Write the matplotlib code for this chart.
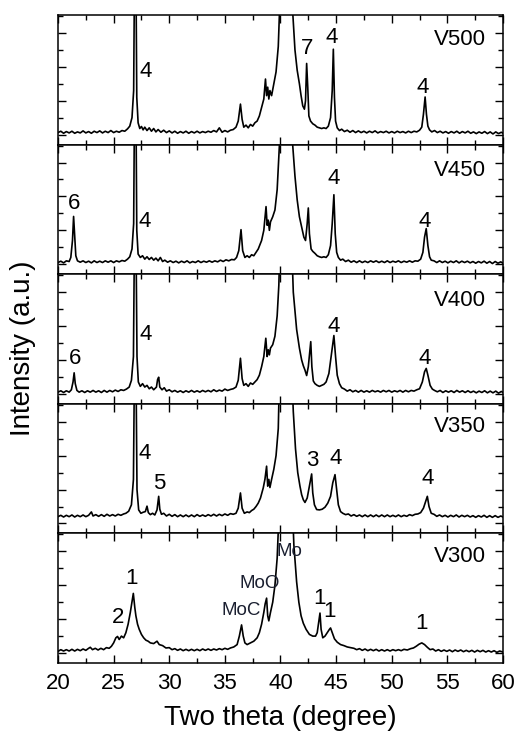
import matplotlib
matplotlib.use("Agg")
import matplotlib.pyplot as plt
from matplotlib.ticker import MultipleLocator, NullFormatter

plt.rcParams['font.family'] = ['Liberation Sans', 'DejaVu Sans']

# XRD patterns: (two theta, intensity in panel units)
v500 = [(20.0, .06), (20.25, .1), (20.5, .04), (20.75, .09), (21.0, .05), (21.25, .1), (21.5, .04), (21.75, .08),
        (22.0, .05), (22.25, .11), (22.5, .05), (22.75, .09), (23.0, .04), (23.25, .1), (23.5, .06), (23.75, .11),
        (24.0, .05), (24.25, .1), (24.5, .06), (24.75, .12), (25.0, .06), (25.25, .1), (25.5, .07), (25.75, .12),
        (26.0, .1), (26.25, .17), (26.45, .25), (26.65, .5), (26.8, 1.3), (26.88, 5), (27.0, 5), (27.08, 1.1),
        (27.2, .35), (27.35, .18), (27.5, .24), (27.65, .14), (27.8, .22), (28.0, .12), (28.2, .2), (28.4, .1),
        (28.6, .18), (28.8, .08), (29.0, .15), (29.25, .07), (29.5, .13), (29.75, .06), (30.0, .11), (30.25, .05),
        (30.5, .1), (30.75, .04), (31.0, .09), (31.25, .05), (31.5, .1), (31.75, .04), (32.0, .09), (32.25, .05),
        (32.5, .1), (32.75, .05), (33.0, .09), (33.25, .06), (33.5, .1), (33.75, .07), (34.0, .12), (34.25, .08),
        (34.5, .2), (34.75, .07), (35.0, .12), (35.25, .08), (35.5, .13), (35.75, .15), (36.0, .22), (36.2, .4),
        (36.4, .9), (36.55, .45), (36.7, .22), (36.9, .28), (37.1, .2), (37.3, .3), (37.5, .25), (37.7, .35),
        (37.9, .4), (38.1, .55), (38.3, .8), (38.5, 1.05), (38.65, 1.64), (38.75, 1.15), (38.85, 1.4), (38.95, 1.05),
        (39.05, 1.3), (39.2, 1.15), (39.4, 1.5), (39.6, 1.85), (39.8, 2.6), (39.95, 4.0), (40.1, 5), (40.9, 5),
        (41.1, 3.6), (41.3, 2.5), (41.5, 1.9), (41.7, 1.5), (41.85, 1.15), (42.0, .85), (42.15, .75), (42.25, 1.0),
        (42.35, 2.1), (42.45, 1.4), (42.55, .55), (42.7, .4), (42.9, .32), (43.1, .28), (43.3, .22), (43.5, .2),
        (43.7, .18), (43.9, .2), (44.1, .18), (44.3, .25), (44.5, .5), (44.65, 1.3), (44.75, 2.52), (44.85, 1.1),
        (44.95, .4), (45.1, .2), (45.3, .12), (45.5, .16), (45.75, .09), (46.0, .13), (46.25, .07), (46.5, .12),
        (46.75, .06), (47.0, .11), (47.25, .06), (47.5, .1), (47.75, .05), (48.0, .1), (48.25, .06), (48.5, .11),
        (48.75, .05), (49.0, .09), (49.25, .06), (49.5, .1), (49.75, .05), (50.0, .09), (50.25, .05), (50.5, .1),
        (50.75, .06), (51.0, .09), (51.25, .05), (51.5, .1), (51.75, .06), (52.0, .1), (52.25, .08), (52.5, .13),
        (52.7, .22), (52.85, .6), (53.0, 1.11), (53.12, .6), (53.25, .25), (53.4, .14), (53.6, .08), (53.85, .12),
        (54.1, .06), (54.35, .1), (54.6, .05), (54.85, .09), (55.1, .04), (55.35, .09), (55.6, .05), (55.85, .1),
        (56.1, .04), (56.35, .09), (56.6, .05), (56.85, .1), (57.1, .04), (57.35, .08), (57.6, .03), (57.85, .08),
        (58.1, .04), (58.35, .09), (58.6, .03), (58.85, .08), (59.1, .02), (59.35, .08), (59.6, .03), (59.85, .07),
        (60.0, .04)]

v450 = [(20.0, .05), (20.25, .09), (20.5, .04), (20.75, .1), (21.0, .08), (21.15, .2), (21.3, .7), (21.4, 1.41),
        (21.5, .8), (21.6, .25), (21.75, .1), (22.0, .06), (22.25, .1), (22.5, .05), (22.75, .09), (23.0, .04),
        (23.25, .1), (23.5, .05), (23.75, .09), (24.0, .05), (24.25, .1), (24.5, .06), (24.75, .1), (25.0, .05),
        (25.25, .1), (25.5, .07), (25.75, .11), (26.0, .09), (26.25, .15), (26.45, .22), (26.65, .45), (26.8, 1.2),
        (26.88, 5), (27.0, 5), (27.08, 1.0), (27.2, .3), (27.4, .2), (27.6, .25), (27.8, .15), (28.0, .22),
        (28.2, .14), (28.4, .2), (28.6, .12), (28.8, .18), (29.0, .1), (29.2, .2), (29.4, .08), (29.6, .12),
        (29.85, .06), (30.1, .1), (30.35, .05), (30.6, .09), (30.85, .04), (31.1, .09), (31.35, .05), (31.6, .1),
        (31.85, .04), (32.1, .08), (32.35, .05), (32.6, .1), (32.85, .05), (33.1, .09), (33.35, .06), (33.6, .1),
        (33.85, .06), (34.1, .1), (34.35, .07), (34.6, .12), (34.85, .08), (35.1, .13), (35.35, .1), (35.6, .14),
        (35.85, .13), (36.05, .2), (36.25, .4), (36.45, 1.02), (36.6, .4), (36.8, .2), (37.0, .25), (37.2, .2),
        (37.4, .28), (37.6, .25), (37.8, .35), (38.0, .45), (38.3, .7), (38.5, 1.0), (38.7, 1.7), (38.8, 1.15),
        (38.9, 1.3), (39.0, 1.0), (39.1, 1.25), (39.3, 1.4), (39.5, 1.6), (39.7, 2.2), (39.9, 3.5), (40.0, 5),
        (40.95, 5), (41.1, 3.5), (41.3, 2.6), (41.5, 1.9), (41.7, 1.4), (41.9, 1.1), (42.1, .8), (42.25, .7),
        (42.4, 1.2), (42.5, 1.66), (42.6, .9), (42.75, .45), (42.9, .38), (43.1, .32), (43.3, .25), (43.5, .22),
        (43.7, .2), (43.9, .22), (44.1, .2), (44.3, .28), (44.5, .55), (44.65, 1.2), (44.8, 2.05), (44.92, .9),
        (45.05, .35), (45.2, .2), (45.4, .12), (45.6, .15), (45.85, .08), (46.1, .12), (46.35, .06), (46.6, .1),
        (46.85, .05), (47.1, .1), (47.35, .05), (47.6, .09), (47.85, .05), (48.1, .1), (48.35, .06), (48.6, .1),
        (48.85, .05), (49.1, .09), (49.35, .05), (49.6, .1), (49.85, .05), (50.1, .09), (50.35, .06), (50.6, .1),
        (50.85, .05), (51.1, .09), (51.35, .06), (51.6, .1), (51.85, .06), (52.1, .1), (52.35, .09), (52.6, .15),
        (52.8, .35), (52.95, .8), (53.1, 1.05), (53.25, .55), (53.4, .22), (53.55, .12), (53.8, .1), (54.05, .05),
        (54.3, .1), (54.55, .05), (54.8, .09), (55.05, .04), (55.3, .09), (55.55, .05), (55.8, .1), (56.05, .04),
        (56.3, .09), (56.55, .05), (56.8, .09), (57.05, .04), (57.3, .08), (57.55, .03), (57.8, .08), (58.05, .04),
        (58.3, .09), (58.55, .03), (58.8, .08), (59.05, .02), (59.3, .08), (59.55, .03), (59.8, .07), (60.0, .03)]

v400 = [(20.0, .05), (20.25, .09), (20.5, .04), (20.75, .09), (21.0, .05), (21.2, .12), (21.35, .35), (21.45, .62),
        (21.55, .3), (21.7, .1), (21.9, .05), (22.15, .09), (22.4, .04), (22.65, .09), (22.9, .05), (23.15, .1),
        (23.4, .05), (23.65, .09), (23.9, .04), (24.15, .1), (24.4, .05), (24.65, .1), (24.9, .06), (25.15, .11),
        (25.4, .07), (25.65, .12), (25.9, .1), (26.15, .14), (26.4, .2), (26.6, .4), (26.78, 1.1), (26.88, 5),
        (27.0, 5), (27.1, 1.1), (27.22, .35), (27.4, .22), (27.6, .3), (27.8, .2), (28.0, .25), (28.2, .15),
        (28.4, .2), (28.6, .12), (28.85, .2), (28.95, .42), (29.05, .49), (29.15, .2), (29.35, .12), (29.55, .18),
        (29.75, .08), (30.0, .12), (30.25, .06), (30.5, .1), (30.75, .05), (31.0, .09), (31.25, .04), (31.5, .09),
        (31.75, .05), (32.0, .1), (32.25, .05), (32.5, .09), (32.75, .05), (33.0, .1), (33.25, .06), (33.5, .1),
        (33.75, .06), (34.0, .12), (34.25, .07), (34.5, .11), (34.75, .08), (35.0, .14), (35.25, .1), (35.5, .13),
        (35.75, .15), (36.0, .2), (36.2, .4), (36.4, 1.05), (36.55, .45), (36.7, .25), (36.9, .3), (37.1, .22),
        (37.3, .32), (37.5, .28), (37.7, .35), (37.9, .42), (38.1, .55), (38.3, .8), (38.5, 1.1), (38.68, 1.64),
        (38.8, 1.1), (38.9, 1.3), (39.0, 1.15), (39.1, 1.35), (39.3, 1.45), (39.5, 1.7), (39.7, 2.3), (39.85, 3.2),
        (40.0, 5), (40.95, 5), (41.15, 3.0), (41.45, 1.9), (41.7, 1.35), (41.9, 1.0), (42.05, .83), (42.2, .7),
        (42.35, .54), (42.5, .8), (42.65, 1.3), (42.72, 1.54), (42.82, .8), (42.95, .38), (43.1, .3), (43.3, .25),
        (43.5, .22), (43.7, .25), (43.9, .28), (44.1, .35), (44.35, .6), (44.55, 1.1), (44.8, 1.72), (44.95, 1.1),
        (45.1, .55), (45.3, .3), (45.5, .18), (45.75, .14), (46.0, .08), (46.25, .12), (46.5, .06), (46.75, .1),
        (47.0, .05), (47.25, .1), (47.5, .05), (47.75, .09), (48.0, .05), (48.25, .1), (48.5, .06), (48.75, .09),
        (49.0, .05), (49.25, .1), (49.5, .06), (49.75, .1), (50.0, .05), (50.25, .09), (50.5, .06), (50.75, .1),
        (51.0, .05), (51.25, .1), (51.5, .06), (51.75, .1), (52.0, .08), (52.25, .12), (52.5, .15), (52.75, .35),
        (52.95, .65), (53.1, .75), (53.25, .55), (53.45, .25), (53.65, .14), (53.85, .1), (54.1, .06), (54.35, .1),
        (54.6, .04), (54.85, .09), (55.1, .05), (55.35, .09), (55.6, .04), (55.85, .1), (56.1, .05), (56.35, .09),
        (56.6, .04), (56.85, .09), (57.1, .04), (57.35, .08), (57.6, .03), (57.85, .08), (58.1, .04), (58.35, .09),
        (58.6, .03), (58.85, .08), (59.1, .03), (59.35, .08), (59.6, .02), (59.85, .07), (60.0, .04)]

v350 = [(20.0, .2), (20.25, .24), (20.5, .19), (20.75, .24), (21.0, .2), (21.25, .25), (21.5, .19), (21.75, .24),
        (22.0, .2), (22.25, .25), (22.5, .2), (22.75, .24), (22.9, .3), (23.0, .34), (23.15, .22), (23.4, .26),
        (23.65, .21), (23.9, .26), (24.15, .21), (24.4, .27), (24.65, .22), (24.9, .26), (25.15, .22), (25.4, .27),
        (25.65, .24), (25.9, .28), (26.1, .3), (26.35, .36), (26.6, .55), (26.78, 1.3), (26.88, 5), (27.0, 5),
        (27.1, 1.0), (27.25, .4), (27.45, .3), (27.65, .33), (27.85, .35), (28.0, .51), (28.12, .32), (28.3, .26),
        (28.5, .3), (28.7, .25), (28.9, .4), (29.05, .8), (29.15, .42), (29.3, .27), (29.5, .3), (29.75, .22),
        (30.0, .27), (30.25, .21), (30.5, .26), (30.75, .2), (31.0, .25), (31.25, .2), (31.5, .25), (31.75, .2),
        (32.0, .25), (32.25, .2), (32.5, .26), (32.75, .21), (33.0, .25), (33.25, .21), (33.5, .26), (33.75, .22),
        (34.0, .27), (34.25, .22), (34.5, .27), (34.75, .23), (35.0, .28), (35.25, .24), (35.5, .29), (35.75, .27),
        (36.0, .3), (36.2, .45), (36.4, .9), (36.55, .45), (36.75, .3), (37.0, .34), (37.2, .32), (37.4, .38),
        (37.6, .42), (37.8, .5), (38.0, .6), (38.2, .75), (38.45, 1.05), (38.6, 1.3), (38.75, 1.69), (38.85, 1.1),
        (38.95, 1.3), (39.05, 1.06), (39.2, 1.3), (39.4, 1.6), (39.6, 2.0), (39.8, 2.8), (39.95, 5), (40.95, 5),
        (41.15, 3.3), (41.35, 2.2), (41.55, 1.5), (41.75, 1.1), (41.9, .85), (42.05, .7), (42.2, .62), (42.4, .75),
        (42.6, 1.1), (42.8, 1.46), (42.9, .9), (43.05, .55), (43.25, .41), (43.5, .4), (43.75, .42), (44.0, .48),
        (44.25, .6), (44.5, .8), (44.7, 1.2), (44.9, 1.44), (45.05, 1.0), (45.2, .55), (45.4, .35), (45.6, .3),
        (45.85, .26), (46.1, .28), (46.35, .22), (46.6, .26), (46.85, .21), (47.1, .25), (47.35, .2), (47.6, .25),
        (47.85, .2), (48.1, .25), (48.35, .2), (48.6, .25), (48.85, .2), (49.1, .25), (49.35, .2), (49.6, .25),
        (49.85, .2), (50.1, .24), (50.35, .2), (50.6, .25), (50.85, .2), (51.1, .24), (51.35, .21), (51.6, .26),
        (51.85, .23), (52.1, .27), (52.35, .28), (52.6, .32), (52.85, .45), (53.05, .65), (53.2, .8), (53.35, .5),
        (53.55, .3), (53.8, .27), (54.05, .21), (54.3, .25), (54.55, .2), (54.8, .24), (55.05, .19), (55.3, .24),
        (55.55, .2), (55.8, .25), (56.05, .19), (56.3, .24), (56.55, .2), (56.8, .24), (57.05, .19), (57.3, .23),
        (57.55, .18), (57.8, .23), (58.05, .19), (58.3, .24), (58.55, .18), (58.8, .23), (59.05, .18), (59.3, .23),
        (59.55, .18), (59.8, .22), (60.0, .19)]

v300 = [(20.0, .05), (20.25, .1), (20.5, .06), (20.75, .1), (21.0, .06), (21.25, .11), (21.5, .06), (21.75, .11),
        (22.0, .07), (22.25, .12), (22.5, .08), (22.75, .14), (22.9, .17), (23.1, .1), (23.35, .14), (23.6, .09),
        (23.85, .14), (24.1, .1), (24.35, .16), (24.6, .14), (24.8, .2), (25.0, .3), (25.2, .45), (25.35, .49),
        (25.5, .4), (25.7, .5), (25.9, .45), (26.1, .6), (26.3, .85), (26.5, 1.2), (26.65, 1.5), (26.77, 1.76),
        (26.9, 1.35), (27.0, 1.1), (27.15, .85), (27.3, .7), (27.5, .55), (27.7, .45), (27.9, .38), (28.1, .35),
        (28.3, .3), (28.6, .28), (28.9, .35), (29.1, .25), (29.4, .22), (29.7, .15), (30.0, .16), (30.25, .1),
        (30.5, .13), (30.75, .08), (31.0, .12), (31.25, .07), (31.5, .11), (31.75, .07), (32.0, .11), (32.25, .07),
        (32.5, .11), (32.75, .07), (33.0, .12), (33.25, .08), (33.5, .12), (33.75, .08), (34.0, .12), (34.25, .09),
        (34.5, .13), (34.75, .1), (35.0, .14), (35.25, .11), (35.5, .15), (35.8, .18), (36.1, .25), (36.3, .5),
        (36.5, .83), (36.65, .5), (36.8, .3), (37.0, .25), (37.3, .3), (37.6, .35), (37.9, .45), (38.1, .6),
        (38.3, .85), (38.5, 1.2), (38.62, 1.45), (38.75, 1.62), (38.85, 1.1), (38.95, .95), (39.1, 1.2), (39.3, 1.5),
        (39.5, 2.0), (39.7, 2.8), (39.85, 4.0), (39.95, 5), (41.0, 5), (41.2, 3.2), (41.45, 2.1), (41.65, 1.5),
        (41.85, 1.1), (42.05, .88), (42.3, .7), (42.6, .55), (42.9, .5), (43.15, .5), (43.3, .6), (43.45, .95),
        (43.55, 1.18), (43.65, .7), (43.8, .45), (44.0, .5), (44.2, .6), (44.4, .7), (44.5, .74), (44.65, .6),
        (44.85, .42), (45.1, .32), (45.4, .25), (45.7, .22), (46.0, .18), (46.3, .16), (46.6, .14), (46.85, .1),
        (47.1, .13), (47.35, .08), (47.6, .12), (47.85, .07), (48.1, .11), (48.35, .07), (48.6, .11), (48.85, .06),
        (49.1, .1), (49.35, .06), (49.6, .1), (49.85, .06), (50.1, .1), (50.35, .07), (50.6, .1), (50.85, .07),
        (51.1, .11), (51.4, .09), (51.7, .13), (51.95, .15), (52.2, .2), (52.45, .26), (52.7, .3), (52.95, .25),
        (53.2, .17), (53.45, .1), (53.7, .12), (53.95, .06), (54.2, .1), (54.45, .05), (54.7, .09), (54.95, .05),
        (55.2, .09), (55.45, .04), (55.7, .09), (55.95, .05), (56.2, .09), (56.45, .04), (56.7, .08), (56.95, .04),
        (57.2, .08), (57.45, .03), (57.7, .08), (57.95, .04), (58.2, .08), (58.45, .03), (58.7, .07), (58.95, .03),
        (59.2, .07), (59.45, .02), (59.7, .06), (60.0, .03)]

patterns = [v500, v450, v400, v350, v300]
names = ['V500', 'V450', 'V400', 'V350', 'V300']
name_y = [2.8, 2.78, 2.75, 2.86, 2.84]

# peak labels: (text, two theta, height)
peak_labels = [
    [('4', 27.9, 1.86), ('7', 42.35, 2.55), ('4', 44.6, 2.87), ('4', 52.8, 1.4)],
    [('6', 21.4, 1.8), ('4', 27.8, 1.26), ('4', 44.8, 2.54), ('4', 53.0, 1.26)],
    [('6', 21.5, 1.05), ('4', 27.9, 1.74), ('4', 44.8, 1.99), ('4', 53.0, 1.05)],
    [('4', 27.75, 2.06), ('5', 29.1, 1.18), ('3', 42.9, 1.85), ('4', 44.95, 1.91), ('4', 53.2, 1.32)],
    [('2', 25.4, 1.05), ('1', 26.6, 2.2), ('MoC', 36.5, 1.27), ('MoO', 38.1, 2.06), ('Mo', 40.8, 3.0),
     ('1', 43.55, 1.62), ('1', 44.45, 1.23), ('1', 52.7, 0.88)],
]

fig, axes = plt.subplots(5, 1, sharex=True, figsize=(5.18, 7.34), dpi=100)
fig.subplots_adjust(left=0.112, right=0.971, bottom=0.0967, top=0.9796, hspace=0)

for ax, pat, name, ny, labs in zip(axes, patterns, names, name_y, peak_labels):
    tt = [p[0] for p in pat]
    inten = [p[1] for p in pat]
    ax.plot(tt, inten, color='black', lw=1.2)
    ax.set_xlim(20, 60)
    ax.set_ylim(-0.294, 3.53)
    ax.xaxis.set_major_locator(MultipleLocator(5))
    ax.xaxis.set_minor_locator(MultipleLocator(2.5))
    ax.yaxis.set_major_locator(MultipleLocator(1))
    ax.yaxis.set_minor_locator(MultipleLocator(0.5))
    ax.yaxis.set_major_formatter(NullFormatter())
    ax.tick_params(which='both', direction='in', top=True, right=True, width=1.0)
    ax.tick_params(which='major', length=5.5)
    ax.tick_params(which='minor', length=3.5)
    ax.tick_params(axis='x', labelsize=16, pad=7)
    for s in ax.spines.values():
        s.set_linewidth(1.1)
    ax.text(58.45, ny, name, ha='right', va='center', fontsize=16)
    for txt, x, y in labs:
        if txt.startswith('Mo'):
            ax.text(x, y, txt, ha='center', va='center', fontsize=13.5, color='#1a1f30')
        else:
            ax.text(x, y, txt, ha='center', va='center', fontsize=16)

axes[-1].set_xlabel('Two theta (degree)', fontsize=20, labelpad=8)
fig.text(0.044, 0.526, 'Intensity (a.u.)', rotation=90, ha='center', va='center', fontsize=20)

fig.savefig('out.png', dpi=100)
